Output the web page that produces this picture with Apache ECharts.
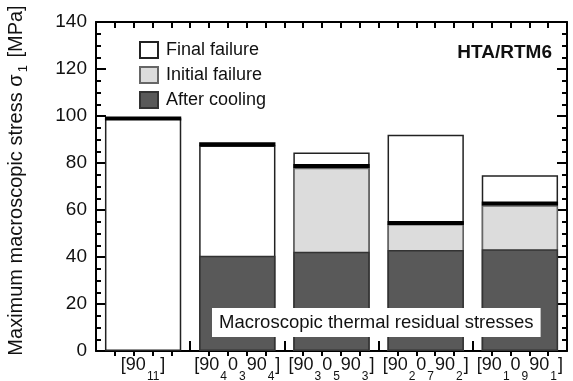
<!DOCTYPE html>
<html><head><meta charset="utf-8">
<script src="https://cdn.jsdelivr.net/npm/echarts@6/dist/echarts.min.js"></script>
<style>html,body{margin:0;padding:0;background:#fff}#c{width:573px;height:381px}</style>
</head><body><div id="c"></div>
<script>
const categories = ['[90_11]', '[90_4 0_3 90_4]', '[90_3 0_5 90_3]', '[90_2 0_7 90_2]', '[90_1 0_9 90_1]'];
const catParts = [
  ['[90', '11', ']'],
  ['[90', '4', '0', '3', '90', '4', ']'],
  ['[90', '3', '0', '5', '90', '3', ']'],
  ['[90', '2', '0', '7', '90', '2', ']'],
  ['[90', '1', '0', '9', '90', '1', ']']
];
const finalFailure = [99, 87.5, 84.5, 92, 74.8];
const initialFailure = [null, null, 78, 54, 62];
const afterCooling = [null, 40.5, 42.2, 43, 43.3];
const failureLine = [98.9, 88, 78.7, 54.5, 62.8];
const yTicks = [0, 20, 40, 60, 80, 100, 120, 140];

const FONT = 'Liberation Sans, Arial, Helvetica, sans-serif';
const chart = echarts.init(document.getElementById('c'), null, {renderer: 'canvas'});

function richLabel(idx) {
  return catParts[idx].map((p, i) => (i % 2 === 0 ? '{n|' : '{s|') + p + '}').join('');
}

const BW = 0.81;
function tickStyle() { return {color: '#000', width: 2}; }
function off() { return {show: false}; }
function line(show) { return {show: show, onZero: false, lineStyle: {color: '#000', width: 2}}; }

chart.setOption({
  animation: false,
  textStyle: {fontFamily: FONT},
  grid: {left: 96, right: 6, top: 22, bottom: 30, containLabel: false, outerBoundsMode: 'none'},
  legend: {
    orient: 'vertical', left: 134, top: 36, itemWidth: 18, itemHeight: 16, itemGap: 7,
    icon: 'rect',
    textStyle: {fontFamily: FONT, fontSize: 18, color: '#111', padding: [0, 0, 0, 3]},
    data: ['Final failure', 'Initial failure', 'After cooling']
  },
  title: [{
    text: 'HTA/RTM6', right: 16, top: 38,
    textStyle: {fontFamily: FONT, fontSize: 19, fontWeight: 'bold', color: '#111'}
  }, {
    text: 'Macroscopic thermal residual stresses', left: 212, top: 308,
    backgroundColor: '#fff', padding: [5, 7, 5, 7],
    textStyle: {fontFamily: FONT, fontSize: 18.5, fontWeight: 'normal', color: '#111'}
  }],
  xAxis: [{
    type: 'category', data: categories, position: 'bottom',
    axisLine: line(true),
    axisTick: {show: true, inside: true, length: 10, lineStyle: tickStyle()},
    axisLabel: {
      interval: 0, margin: 5, hideOverlap: false,
      formatter: (v, i) => richLabel(i),
      rich: {
        n: {fontFamily: FONT, fontSize: 18, color: '#111', verticalAlign: 'top', lineHeight: 20},
        s: {fontFamily: FONT, fontSize: 12, color: '#111', verticalAlign: 'top', lineHeight: 12, padding: [15, 1, 0, 1]}
      }
    },
    splitLine: off()
  }, {
    type: 'value', min: 0, max: 5, interval: 1, position: 'bottom',
    axisLine: line(false),
    axisTick: {show: false},
    minorTick: {show: true, splitNumber: 5, length: 5, lineStyle: tickStyle()},
    axisLabel: off(), splitLine: off(), minorSplitLine: off()
  }, {
    type: 'value', min: 0, max: 5, interval: 1, position: 'top',
    axisLine: line(true),
    axisTick: {show: true, inside: true, length: 6, lineStyle: tickStyle()},
    minorTick: {show: true, splitNumber: 5, length: 6, lineStyle: tickStyle()},
    axisLabel: off(), splitLine: off(), minorSplitLine: off()
  }],
  yAxis: [{
    type: 'value', min: 0, max: 140, interval: 20, position: 'left',
    name: 'Maximum macroscopic stress {g|σ}{s|1} [MPa]',
    nameLocation: 'middle', nameGap: 66, nameRotate: 90,
    nameTextStyle: {
      fontFamily: FONT, fontSize: 20, color: '#111', padding: [0, 0, 0, 12],
      rich: {
        g: {fontFamily: FONT, fontSize: 20, color: '#111'},
        s: {fontFamily: FONT, fontSize: 13, color: '#111', padding: [14, 2, 0, 2]}
      }
    },
    axisLine: line(true),
    axisTick: {show: true, inside: true, length: 10, lineStyle: tickStyle()},
    minorTick: {show: true, splitNumber: 4, length: 5, lineStyle: tickStyle()},
    axisLabel: {fontFamily: FONT, fontSize: 19, color: '#111', margin: 9,
      formatter: v => (yTicks.indexOf(v) >= 0 ? String(v) : '')},
    splitLine: off(), minorSplitLine: off()
  }, {
    type: 'value', min: 0, max: 140, interval: 20, position: 'right',
    axisLine: line(true),
    axisTick: {show: true, inside: true, length: 10, lineStyle: tickStyle()},
    minorTick: {show: true, splitNumber: 4, length: 5, lineStyle: tickStyle()},
    axisLabel: off(), splitLine: off(), minorSplitLine: off()
  }],
  series: [{
    name: 'Final failure', type: 'bar', xAxisIndex: 0, yAxisIndex: 0,
    data: finalFailure, barWidth: (BW * 100) + '%', barGap: '-100%',
    itemStyle: {color: '#ffffff', borderColor: '#222', borderWidth: 1.5}
  }, {
    name: 'Initial failure', type: 'bar', xAxisIndex: 0, yAxisIndex: 0,
    data: initialFailure, barWidth: (BW * 100) + '%', barGap: '-100%',
    itemStyle: {color: '#dcdcdc', borderColor: '#666', borderWidth: 1.5}
  }, {
    name: 'After cooling', type: 'bar', xAxisIndex: 0, yAxisIndex: 0,
    data: afterCooling, barWidth: (BW * 100) + '%', barGap: '-100%',
    itemStyle: {color: '#595959', borderColor: '#333', borderWidth: 1.5}
  }, {
    name: 'failure line', type: 'custom', xAxisIndex: 0, yAxisIndex: 0, z: 5,
    data: failureLine.map((v, i) => [i, v]),
    encode: {x: 0, y: 1},
    renderItem: (params, api) => {
      const p = api.coord([api.value(0), api.value(1)]);
      const w = api.size([1, 0])[0] * BW;
      return {type: 'rect', shape: {x: p[0] - w / 2, y: p[1] - 2, width: w, height: 4}, style: {fill: '#000'}};
    }
  }]
});
</script></body></html>
